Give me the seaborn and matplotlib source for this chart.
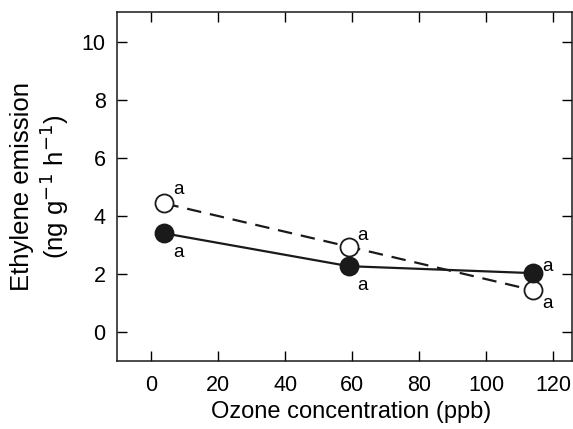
import numpy as np
import pandas as pd
import seaborn as sns
from matplotlib import pyplot as plt

ozone = [4, 59, 114]
filled_vals = [3.40, 2.27, 2.03]
open_vals = [4.43, 2.94, 1.44]
filled_letters = ["a", "a", "a"]
open_letters = ["a", "a", "a"]

sns.set_theme(style="ticks")
plt.rcParams['font.family'] = ['Liberation Sans', 'DejaVu Sans']
plt.rcParams['text.color'] = 'black'
plt.rcParams['axes.labelcolor'] = 'black'
plt.rcParams['xtick.color'] = 'black'
plt.rcParams['ytick.color'] = 'black'

fig, ax = plt.subplots(figsize=(5.73, 4.29), dpi=100)

df_f = pd.DataFrame({"x": ozone, "y": filled_vals})
df_o = pd.DataFrame({"x": ozone, "y": open_vals})

sns.lineplot(data=df_o, x="x", y="y", ax=ax, color="#1a1a1a", linewidth=1.6,
             linestyle=(0, (6.5, 4)), marker="o", markersize=13,
             markerfacecolor="white", markeredgecolor="#1a1a1a", markeredgewidth=1.3)
sns.lineplot(data=df_f, x="x", y="y", ax=ax, color="#1a1a1a", linewidth=1.6,
             marker="o", markersize=13, markerfacecolor="#1a1a1a",
             markeredgecolor="#1a1a1a", markeredgewidth=1.3)

# significance letters, offsets in points from marker centre
f_off = [(6.5, -13.7), (6, -13.7), (6.5, 4.7)]
o_off = [(6.5, 10), (6, 8.4), (6.5, -9.4)]
for i, (x, y) in enumerate(zip(ozone, filled_vals)):
    ax.annotate(filled_letters[i], (x, y), xytext=f_off[i], textcoords="offset points",
                fontsize=13.5, ha="left", va="center")
for i, (x, y) in enumerate(zip(ozone, open_vals)):
    ax.annotate(open_letters[i], (x, y), xytext=o_off[i], textcoords="offset points",
                fontsize=13.5, ha="left", va="center")

ax.set_xlim(-10, 125.5)
ax.set_ylim(-1, 11)
ax.set_xticks(np.arange(0, 121, 20))
ax.set_yticks(np.arange(0, 11, 2))
ax.tick_params(direction="in", top=True, right=True, length=7, width=1, labelsize=15.5)
ax.tick_params(axis="x", pad=10)
ax.tick_params(axis="y", pad=8.5)
for s in ax.spines.values():
    s.set_linewidth(1.1)
    s.set_color("#1a1a1a")

ax.set_xlabel("Ozone concentration (ppb)", fontsize=17, labelpad=5)
ax.xaxis.set_label_coords(0.515, -0.115)
ax.set_ylabel("Ethylene emission\n(ng g$^{-1}$ h$^{-1}$)", fontsize=18.5, labelpad=8,
              linespacing=1.1)

plt.subplots_adjust(left=0.205, right=0.998, top=0.971, bottom=0.158)
plt.savefig("out.png", dpi=100)
